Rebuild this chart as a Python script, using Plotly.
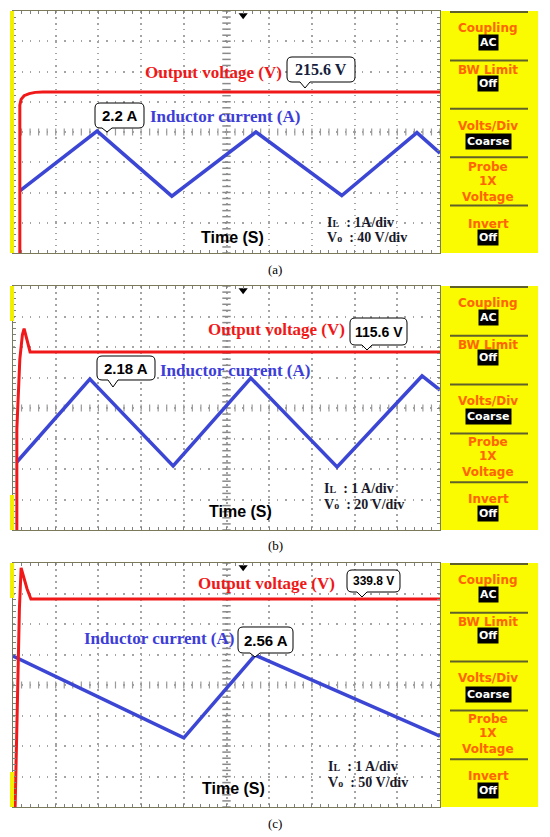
import plotly.graph_objects as go

a_vo_t = [0.16, 0.16, 0.19, 0.26, 0.38, 0.52, 0.70, 10.0]
a_vo = [0.0, 4.89, 5.08, 5.20, 5.27, 5.31, 5.32, 5.32]
a_il_t = [0.16, 1.97, 3.72, 5.69, 7.70, 9.46, 10.0]
a_il = [2.05, 4.03, 1.88, 4.00, 1.90, 3.98, 3.30]

b_vo_t = [0.09, 0.09, 0.16, 0.22, 0.26, 0.31, 0.40, 10.0]
b_vo = [0.0, 3.3, 5.6, 6.4, 6.6, 6.3, 5.84, 5.84]
b_il_t = [0.09, 1.80, 3.75, 5.57, 7.59, 9.58, 10.0]
b_il = [2.23, 4.95, 2.10, 4.98, 2.07, 5.05, 4.59]

c_vo_t = [0.05, 0.09, 0.15, 0.19, 0.26, 0.33, 0.42, 10.0]
c_vo = [0.0, 3.0, 6.5, 7.84, 7.45, 7.15, 6.82, 6.82]
c_il_t = [0.0, 4.0, 5.67, 10.0]
c_il = [4.95, 2.27, 4.98, 2.32]

vo_readings = ["215.6 V", "115.6 V", "339.8 V"]
peak_readings = ["2.2 A", "2.18 A", "2.56 A"]
il_scales = ["1A/div", "1 A/div", "1 A/div"]
vo_scales = ["40 V/div", "20 V/div", "50 V/div"]
captions = ["(a)", "(b)", "(c)"]

W, H = 550, 837
X0, X1 = 13, 440
tops = [11, 286, 563]
heights = [242, 244, 244]
RED = "#f01818"
BLUE = "#3c46d4"
ORANGE = "#ff6400"
SERIF = "Liberation Serif"
SANS = "Liberation Sans"


def fx(x):
    return x / W


def fy(y):
    return 1 - y / H


def callout(x0, y0, x1, y1, nx, ny, r=5):
    pts = [("M", x0 + r, y0), ("L", x1 - r, y0), ("Q", x1, y0, x1, y0 + r),
           ("L", x1, y1 - r), ("Q", x1, y1, x1 - r, y1), ("L", nx + 5, y1),
           ("L", nx, ny), ("L", nx - 5, y1), ("L", x0 + r, y1),
           ("Q", x0, y1, x0, y1 - r), ("L", x0, y0 + r), ("Q", x0, y0, x0 + r, y0)]
    out = []
    for p in pts:
        cmd, vals = p[0], p[1:]
        coords = []
        for k in range(0, len(vals), 2):
            coords.append(f"{fx(vals[k]):.5f},{fy(vals[k + 1]):.5f}")
        out.append(cmd + " ".join(coords))
    return " ".join(out) + " Z"


def label(x, y, text, font, xanchor="center", **kw):
    return dict(x=fx(x), y=fy(y), xref="paper", yref="paper", text=text, showarrow=False,
                xanchor=xanchor, yanchor="middle", font=font, **kw)


fig = go.Figure()
shapes = []
ann = []

series = [(a_vo_t, a_vo, a_il_t, a_il), (b_vo_t, b_vo, b_il_t, b_il),
          (c_vo_t, c_vo, c_il_t, c_il)]

# layout of texts inside each screen (pixels relative to the screen top)
vo_label = [(213, 61), (276, 44), (266, 20)]
vo_box = [(287, 46, 355, 71, 305, 77, SERIF, 16, "#14203c"),
          (350, 32, 407, 59, 367, 64, SANS, 14, "black"),
          (347, 7, 400, 29, 362, 34, SANS, 12, "black")]
il_label = [(225, 106), (235, 84), (159, 75)]
pk_box = [(95, 92, 144, 117, 107, 121, SANS, 15),
          (97, 70, 155, 94, 113, 101, SANS, 15),
          (238, 64, 293, 90, 255, 94, SANS, 15)]
time_pos = [(232, 226), (240, 226), (233, 225)]
scale_pos = [(325, 211), (322, 202), (326, 203)]
cap_y = [269, 545, 823]

menu_items = [("Coupling", 17, 0), ("AC", 31, 1), ("BW Limit", 59, 0), ("Off", 72, 1),
              ("Volts/Div", 115, 0), ("Coarse", 131, 1), ("Probe", 156, 0), ("1X", 170, 0),
              ("Voltage", 186, 0), ("Invert", 213, 0), ("Off", 227, 1)]

for i, (vt, v, it, il) in enumerate(series):
    sfx = "" if i == 0 else str(i + 1)
    xa, ya = "x" + sfx, "y" + sfx
    T, Hh = tops[i], heights[i]

    # centre graticule ticks
    fig.add_trace(go.Scatter(x=[5] * 41, y=[k * 0.2 for k in range(41)], mode="markers",
                             marker=dict(symbol="line-ew", size=6, line=dict(color="#8a8a8a", width=1.5)),
                             xaxis=xa, yaxis=ya, hoverinfo="skip", showlegend=False))
    fig.add_trace(go.Scatter(x=[k * 0.2 for k in range(51)], y=[4] * 51, mode="markers",
                             marker=dict(symbol="line-ns", size=5, line=dict(color="#9a9a9a", width=1.2)),
                             xaxis=xa, yaxis=ya, hoverinfo="skip", showlegend=False))
    fig.add_trace(go.Scatter(x=it, y=il, mode="lines", line=dict(color=BLUE, width=3.5),
                             xaxis=xa, yaxis=ya, hoverinfo="skip", showlegend=False))
    fig.add_trace(go.Scatter(x=vt, y=v, mode="lines", line=dict(color=RED, width=3),
                             xaxis=xa, yaxis=ya, hoverinfo="skip", showlegend=False))
    fig.add_trace(go.Scatter(x=[5.39], y=[7.86], mode="markers",
                             marker=dict(symbol="triangle-down", size=8, color="black"),
                             xaxis=xa, yaxis=ya, cliponaxis=False, hoverinfo="skip", showlegend=False))

    axx = dict(domain=[fx(X0), fx(X1)], anchor=ya, range=[0, 10], dtick=1, tick0=0,
               showticklabels=False, showgrid=True, gridcolor="#a4a4a4", gridwidth=1.5,
               griddash="1.5px,4.5px", zeroline=False, showline=True, linecolor="#7a7a5a",
               linewidth=1, mirror="ticks", ticks="inside", ticklen=3, tickcolor="#808080",
               minor=dict(dtick=0.2, ticks="inside", ticklen=3, tickcolor="#808080", showgrid=False),
               fixedrange=True)
    axy = dict(domain=[fy(T + Hh), fy(T)], anchor=xa, range=[0, 8], dtick=1, tick0=0,
               showticklabels=False, showgrid=True, gridcolor="#a4a4a4", gridwidth=1.5,
               griddash="1.5px,7px", zeroline=False, showline=True, linecolor="#7a7a5a",
               linewidth=1, mirror="ticks", ticks="inside", ticklen=3, tickcolor="#808080",
               minor=dict(dtick=0.2, ticks="inside", ticklen=3, tickcolor="#808080", showgrid=False),
               fixedrange=True)
    fig.layout["xaxis" + sfx] = axx
    fig.layout["yaxis" + sfx] = axy

    # yellow menu panel
    shapes.append(dict(type="rect", xref="paper", yref="paper", x0=fx(X1), x1=fx(538),
                       y0=fy(T + Hh), y1=fy(T), fillcolor="#fafa00", line=dict(width=0), layer="below"))
    for k in range(5):
        yy = T + k * Hh / 5
        shapes.append(dict(type="line", xref="paper", yref="paper", x0=fx(450), x1=fx(528),
                           y0=fy(yy + 1), y1=fy(yy + 1), line=dict(color="#60602a", width=2)))
    # yellow strip on the left border
    shapes.append(dict(type="rect", xref="paper", yref="paper", x0=fx(10), x1=fx(14),
                       y0=fy(T + Hh if i == 0 else T + 35), y1=fy(T), fillcolor="#f0f000",
                       line=dict(width=0)))
    if i > 0:
        shapes.append(dict(type="rect", xref="paper", yref="paper", x0=fx(10), x1=fx(14),
                           y0=fy(T + Hh), y1=fy(T + Hh - 35), fillcolor="#f0f000", line=dict(width=0)))

    for text, ry, boxed in menu_items:
        if boxed:
            ann.append(label(488, T + ry, f"<b>{text}</b>",
                             dict(family="DejaVu Sans", size=11, color="white"),
                             bgcolor="black", borderpad=1))
        else:
            ann.append(label(488, T + ry, f"<b>{text}</b>",
                             dict(family="DejaVu Sans", size=12, color=ORANGE)))

    # text on the screen
    lx, ly = vo_label[i]
    ann.append(label(lx, T + ly, "<b>Output voltage (V)</b>", dict(family=SERIF, size=17, color=RED)))
    bx0, by0, bx1, by1, nx, ny, fam, fs, col = vo_box[i]
    shapes.append(dict(type="path", xref="paper", yref="paper",
                       path=callout(bx0, T + by0, bx1, T + by1, nx, T + ny),
                       fillcolor="white", line=dict(color="black", width=1)))
    ann.append(label((bx0 + bx1) / 2, T + (by0 + by1) / 2, f"<b>{vo_readings[i]}</b>",
                     dict(family=fam, size=fs, color=col)))

    lx, ly = il_label[i]
    ann.append(label(lx, T + ly, "<b>Inductor current (A)</b>",
                     dict(family=SERIF, size=17, color="#3d3dd8")))
    bx0, by0, bx1, by1, nx, ny, fam, fs = pk_box[i]
    shapes.append(dict(type="path", xref="paper", yref="paper",
                       path=callout(bx0, T + by0, bx1, T + by1, nx, T + ny),
                       fillcolor="white", line=dict(color="black", width=1)))
    ann.append(label((bx0 + bx1) / 2, T + (by0 + by1) / 2, f"<b>{peak_readings[i]}</b>",
                     dict(family=fam, size=fs, color="black")))

    tx, ty = time_pos[i]
    ann.append(label(tx, T + ty, "<b>Time (S)</b>", dict(family=SANS, size=16, color="black")))

    sx, sy = scale_pos[i]
    ann.append(label(sx, T + sy, f"<b>I<span style='font-size:10px'>L</span>  : {il_scales[i]}</b>",
                     dict(family=SERIF, size=14, color="#1a1a2a"), xanchor="left"))
    ann.append(label(sx, T + sy + 16, f"<b>V<span style='font-size:10px'>o</span>  : {vo_scales[i]}</b>",
                     dict(family=SERIF, size=14, color="#1a1a2a"), xanchor="left"))

    ann.append(label(275, cap_y[i], captions[i], dict(family=SERIF, size=13, color="black")))

fig.update_layout(width=W, height=H, autosize=False, margin=dict(l=0, r=0, t=0, b=0, pad=0),
                  paper_bgcolor="white", plot_bgcolor="white", showlegend=False,
                  shapes=shapes, annotations=ann)
fig.write_html("out.html", config={"displayModeBar": False},
               post_script="document.body.style.margin='0';")
